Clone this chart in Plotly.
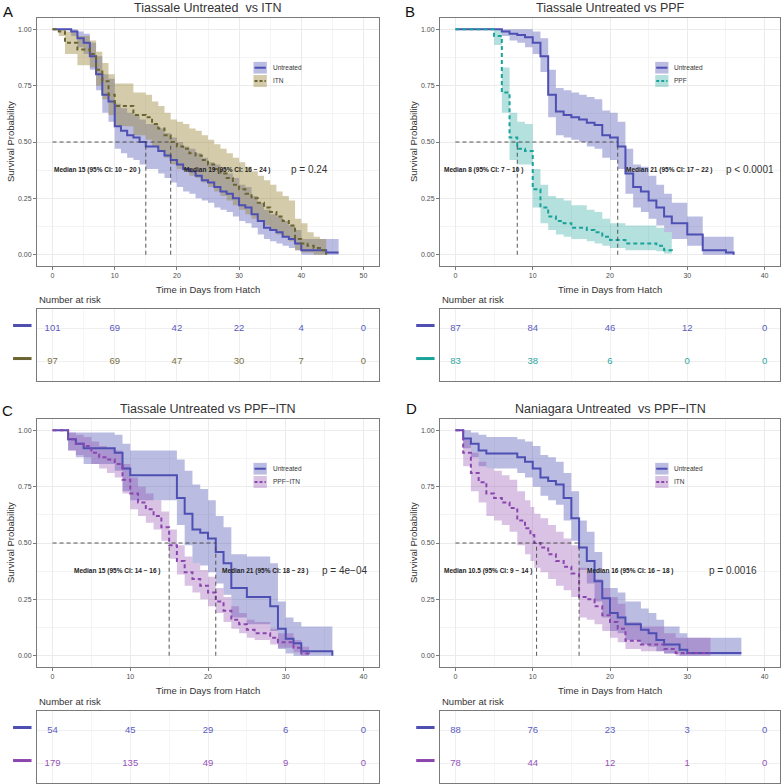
import plotly.graph_objects as go

# ---------------- data ----------------
# Panel A: Tiassale Untreated vs ITN
A_UNT_T = [0, 3, 4, 5, 6, 7, 8, 9, 10, 11, 12, 13, 14, 15, 17, 18, 19, 20, 21, 22, 23, 24, 25, 26, 27, 28, 29, 30,
           31, 32, 33, 34, 35, 36, 37, 38, 39, 40, 44, 46]
A_UNT_S = [1.00, 0.99, 0.96, 0.94, 0.88, 0.80, 0.71, 0.68, 0.57, 0.55, 0.53, 0.52, 0.50, 0.48, 0.46, 0.44, 0.42, 0.40,
           0.38, 0.37, 0.35, 0.33, 0.32, 0.30, 0.28, 0.27, 0.25, 0.22, 0.21, 0.18, 0.15, 0.12, 0.11, 0.10, 0.08, 0.07,
           0.05, 0.02, 0.01, 0.01]
A_UNT_LO = [1.00, 0.97, 0.92, 0.89, 0.82, 0.73, 0.63, 0.59, 0.47, 0.45, 0.43, 0.42, 0.40, 0.38, 0.36, 0.34, 0.32, 0.30,
            0.28, 0.27, 0.25, 0.24, 0.23, 0.21, 0.20, 0.19, 0.17, 0.15, 0.14, 0.12, 0.09, 0.07, 0.06, 0.05, 0.04, 0.03,
            0.02, 0.00, 0.00, 0.00]
A_UNT_HI = [1.00, 1.00, 0.99, 0.98, 0.94, 0.88, 0.80, 0.78, 0.67, 0.65, 0.63, 0.62, 0.60, 0.58, 0.56, 0.54, 0.52, 0.50,
            0.48, 0.47, 0.45, 0.43, 0.41, 0.40, 0.38, 0.36, 0.34, 0.31, 0.30, 0.26, 0.23, 0.20, 0.18, 0.17, 0.15, 0.13,
            0.11, 0.07, 0.07, 0.07]

A_ITN_T = [0, 1, 2, 4, 6, 7, 8, 9, 10, 13, 15, 16, 17, 18, 19, 20, 21, 22, 23, 24, 25, 26, 27, 28, 29, 30, 31, 32,
           33, 34, 35, 36, 37, 38, 39, 40, 41, 42, 43, 44]
A_ITN_S = [1.00, 0.99, 0.94, 0.91, 0.89, 0.82, 0.77, 0.71, 0.66, 0.62, 0.61, 0.58, 0.56, 0.53, 0.50, 0.48, 0.47, 0.45,
           0.44, 0.42, 0.40, 0.38, 0.36, 0.34, 0.31, 0.29, 0.27, 0.25, 0.23, 0.21, 0.19, 0.17, 0.15, 0.13, 0.07, 0.05,
           0.04, 0.03, 0.02, 0.00]
A_ITN_LO = [1.00, 0.97, 0.89, 0.84, 0.83, 0.75, 0.69, 0.62, 0.57, 0.53, 0.51, 0.48, 0.46, 0.43, 0.40, 0.38, 0.37, 0.35,
            0.34, 0.32, 0.30, 0.28, 0.26, 0.24, 0.22, 0.20, 0.18, 0.16, 0.15, 0.13, 0.11, 0.09, 0.08, 0.06, 0.02, 0.01,
            0.01, 0.00, 0.00, 0.00]
A_ITN_HI = [1.00, 1.00, 0.99, 0.97, 0.95, 0.90, 0.85, 0.80, 0.76, 0.72, 0.71, 0.68, 0.66, 0.63, 0.60, 0.59, 0.58, 0.56,
            0.55, 0.53, 0.51, 0.49, 0.47, 0.45, 0.43, 0.41, 0.39, 0.37, 0.35, 0.33, 0.31, 0.28, 0.26, 0.24, 0.16, 0.14,
            0.10, 0.08, 0.07, 0.07]

# Panel B: Tiassale Untreated vs PPF
B_UNT_T = [0, 6, 7, 8, 9, 10, 11, 12, 13, 14, 15, 16, 17, 18, 19, 20, 21, 22, 23, 24, 25, 26, 27, 28, 30, 32, 35, 36]
B_UNT_S = [1.00, 0.99, 0.98, 0.975, 0.965, 0.94, 0.88, 0.71, 0.635, 0.62, 0.61, 0.60, 0.585, 0.575, 0.53, 0.52, 0.48,
           0.36, 0.30, 0.28, 0.24, 0.21, 0.17, 0.14, 0.09, 0.02, 0.01, 0.00]
B_UNT_LO = [1.00, 0.97, 0.95, 0.94, 0.92, 0.89, 0.81, 0.61, 0.53, 0.52, 0.51, 0.50, 0.48, 0.47, 0.43, 0.42, 0.38,
            0.27, 0.21, 0.19, 0.16, 0.13, 0.10, 0.07, 0.04, 0.00, 0.00, 0.00]
B_UNT_HI = [1.00, 1.00, 1.00, 1.00, 1.00, 0.99, 0.96, 0.82, 0.74, 0.73, 0.72, 0.71, 0.70, 0.69, 0.64, 0.63, 0.59,
            0.47, 0.40, 0.39, 0.35, 0.31, 0.27, 0.23, 0.17, 0.08, 0.08, 0.08]

B_PPF_T = [0, 5, 6, 7, 8, 9, 10, 11, 12, 13, 14, 15, 17, 18, 19, 20, 22, 26, 27, 28]
B_PPF_S = [1.00, 0.97, 0.72, 0.52, 0.47, 0.46, 0.29, 0.21, 0.17, 0.15, 0.14, 0.12, 0.11, 0.10, 0.08, 0.065, 0.05,
           0.04, 0.02, 0.01]
B_PPF_LO = [1.00, 0.93, 0.63, 0.42, 0.40, 0.40, 0.21, 0.14, 0.11, 0.09, 0.08, 0.07, 0.06, 0.05, 0.04, 0.03, 0.02,
            0.015, 0.005, 0.00]
B_PPF_HI = [1.00, 1.00, 0.83, 0.63, 0.59, 0.58, 0.38, 0.31, 0.26, 0.25, 0.24, 0.22, 0.20, 0.19, 0.16, 0.14, 0.13,
            0.12, 0.10, 0.09]

# Panel C: Tiassale Untreated vs PPF-ITN
C_UNT_T = [0, 2, 3, 4, 8, 9, 10, 16, 17, 18, 19, 20, 21, 22, 23, 25, 28, 29, 30, 31, 32, 36]
C_UNT_S = [1.00, 0.96, 0.94, 0.92, 0.90, 0.83, 0.80, 0.70, 0.63, 0.56, 0.545, 0.52, 0.46, 0.41, 0.30, 0.26, 0.22,
           0.12, 0.075, 0.055, 0.02, 0.00]
C_UNT_LO = [1.00, 0.91, 0.88, 0.85, 0.82, 0.73, 0.69, 0.58, 0.49, 0.41, 0.40, 0.37, 0.32, 0.27, 0.17, 0.14, 0.11,
            0.03, 0.01, 0.00, 0.00, 0.00]
C_UNT_HI = [1.00, 0.99, 0.99, 0.99, 0.98, 0.94, 0.91, 0.87, 0.82, 0.76, 0.74, 0.69, 0.62, 0.57, 0.45, 0.44, 0.41,
            0.24, 0.17, 0.15, 0.13, 0.13]

C_PI_T = [0, 2, 3, 4, 5, 6, 7, 8, 9, 10, 11, 12, 13, 14, 15, 16, 17, 18, 19, 20, 21, 22, 23, 24, 25, 26, 28, 29,
          31, 32, 33]
C_PI_S = [1.00, 0.96, 0.94, 0.93, 0.90, 0.88, 0.87, 0.85, 0.78, 0.72, 0.68, 0.65, 0.62, 0.57, 0.49, 0.42, 0.37, 0.34,
          0.31, 0.28, 0.24, 0.20, 0.16, 0.14, 0.115, 0.10, 0.08, 0.06, 0.035, 0.01, 0.00]
C_PI_LO = [1.00, 0.91, 0.89, 0.88, 0.85, 0.83, 0.81, 0.79, 0.72, 0.65, 0.62, 0.59, 0.56, 0.51, 0.43, 0.36, 0.31, 0.28,
           0.25, 0.22, 0.19, 0.15, 0.12, 0.10, 0.08, 0.07, 0.05, 0.035, 0.015, 0.00, 0.00]
C_PI_HI = [1.00, 0.99, 0.98, 0.97, 0.95, 0.93, 0.92, 0.91, 0.85, 0.79, 0.75, 0.72, 0.69, 0.64, 0.56, 0.49, 0.44, 0.41,
           0.38, 0.35, 0.30, 0.26, 0.22, 0.19, 0.16, 0.15, 0.12, 0.10, 0.07, 0.04, 0.04]

# Panel D: Naniagara Untreated vs PPF-ITN
D_UNT_T = [0, 1, 2, 3, 4, 8, 9, 10, 11, 12, 13, 14, 15, 16, 17, 18, 19, 20, 21, 22, 24, 25, 26, 27, 29, 30, 37]
D_UNT_S = [1.00, 0.963, 0.94, 0.91, 0.897, 0.88, 0.86, 0.83, 0.79, 0.775, 0.76, 0.70, 0.61, 0.48, 0.42, 0.33, 0.255,
           0.19, 0.17, 0.14, 0.115, 0.10, 0.07, 0.05, 0.027, 0.012, 0.012]
D_UNT_LO = [1.00, 0.92, 0.88, 0.84, 0.83, 0.81, 0.79, 0.75, 0.71, 0.69, 0.67, 0.60, 0.51, 0.38, 0.32, 0.24, 0.17,
            0.11, 0.10, 0.07, 0.05, 0.04, 0.02, 0.01, 0.00, 0.00, 0.00]
D_UNT_HI = [1.00, 1.00, 0.99, 0.98, 0.97, 0.96, 0.95, 0.93, 0.89, 0.88, 0.86, 0.81, 0.73, 0.60, 0.55, 0.46, 0.37,
            0.30, 0.28, 0.24, 0.21, 0.19, 0.16, 0.13, 0.10, 0.08, 0.08]

D_ITN_T = [0, 1, 2, 3, 4, 5, 6, 7, 8, 9, 9.7, 10.2, 11, 12, 13, 14, 15, 16, 17, 18, 19, 20, 21, 22, 24, 27, 28.5, 33]
D_ITN_S = [1.00, 0.90, 0.81, 0.77, 0.72, 0.70, 0.68, 0.655, 0.60, 0.565, 0.535, 0.50, 0.48, 0.45, 0.42, 0.395, 0.365,
           0.26, 0.25, 0.22, 0.18, 0.15, 0.12, 0.066, 0.05, 0.03, 0.012, 0.012]
D_ITN_LO = [1.00, 0.84, 0.73, 0.68, 0.62, 0.60, 0.58, 0.55, 0.49, 0.45, 0.42, 0.39, 0.37, 0.34, 0.31, 0.29, 0.26,
            0.17, 0.16, 0.14, 0.11, 0.08, 0.06, 0.03, 0.02, 0.01, 0.00, 0.00]
D_ITN_HI = [1.00, 0.96, 0.90, 0.86, 0.83, 0.82, 0.80, 0.78, 0.73, 0.69, 0.66, 0.63, 0.61, 0.58, 0.55, 0.52, 0.49,
            0.39, 0.37, 0.34, 0.30, 0.26, 0.23, 0.15, 0.13, 0.10, 0.08, 0.08]

# number at risk tables
RISK_TIMES_A = [0, 10, 20, 30, 40, 50]
RISK_A_UNT = [101, 69, 42, 22, 4, 0]
RISK_A_ITN = [97, 69, 47, 30, 7, 0]
RISK_TIMES_BCD = [0, 10, 20, 30, 40]
RISK_B_UNT = [87, 84, 46, 12, 0]
RISK_B_PPF = [83, 38, 6, 0, 0]
RISK_C_UNT = [54, 45, 29, 6, 0]
RISK_C_PI = [179, 135, 49, 9, 0]
RISK_D_UNT = [88, 76, 23, 3, 0]
RISK_D_ITN = [78, 44, 12, 1, 0]

# medians and their labels
MEDIANS_A = [15, 19]
MEDIANS_B = [8, 21]
MEDIANS_C = [15, 21]
MEDIANS_D = [10.5, 16]
MEDIAN_LABELS_A = ["Median 15 (95% CI: 10 − 20 )", "Median 19 (95% CI: 16 − 24 )"]
MEDIAN_LABELS_B = ["Median 8 (95% CI: 7 − 10 )", "Median 21 (95% CI: 17 − 22 )"]
MEDIAN_LABELS_C = ["Median 15 (95% CI: 14 − 16 )", "Median 21 (95% CI: 18 − 23 )"]
MEDIAN_LABELS_D = ["Median 10.5 (95% CI: 9 − 14 )", "Median 16 (95% CI: 16 − 18 )"]

# ---------------- styling ----------------
W = H = 784
FONT = "Liberation Sans, Arial, sans-serif"
UNT = dict(line="#4D4FB3", band="rgba(77,79,179,0.38)", text="#5A5BC0")
ITN_OL = dict(line="#6B6430", band="rgba(150,130,50,0.42)", text="#7B7242")
PPF = dict(line="#1AA39B", band="rgba(26,163,155,0.33)", text="#2BA8A1")
PPFITN = dict(line="#8B46AE", band="rgba(139,70,174,0.33)", text="#9453B8")

PANELS = [
    dict(letter="A", letter_xy=(8, 12), title="Tiassale Untreated  vs ITN", xpx=(37, 379), ypx=(18, 266),
         tpx=(309, 381), xrange=[-2.5, 52.5], ticks=[0, 10, 20, 30, 40, 50], risk_times=RISK_TIMES_A,
         curves=[dict(name="Untreated", t=A_UNT_T, s=A_UNT_S, lo=A_UNT_LO, hi=A_UNT_HI, c=UNT, dash="solid",
                      risk=RISK_A_UNT),
                 dict(name="ITN", t=A_ITN_T, s=A_ITN_S, lo=A_ITN_LO, hi=A_ITN_HI, c=ITN_OL, dash="4px,3px",
                      risk=RISK_A_ITN)],
         medians=MEDIANS_A, mlabels=MEDIAN_LABELS_A, mlabel_x=[7.2, 28.2], pval="p = 0.24", p_x=41.3),
    dict(letter="B", letter_xy=(410, 11), title="Tiassale Untreated vs PPF", xpx=(440, 780), ypx=(18, 266),
         tpx=(309, 381), xrange=[-2, 42], ticks=[0, 10, 20, 30, 40], risk_times=RISK_TIMES_BCD,
         curves=[dict(name="Untreated", t=B_UNT_T, s=B_UNT_S, lo=B_UNT_LO, hi=B_UNT_HI, c=UNT, dash="solid",
                      risk=RISK_B_UNT),
                 dict(name="PPF", t=B_PPF_T, s=B_PPF_S, lo=B_PPF_LO, hi=B_PPF_HI, c=PPF, dash="4px,3px",
                      risk=RISK_B_PPF)],
         medians=MEDIANS_B, mlabels=MEDIAN_LABELS_B, mlabel_x=[3.6, 27.7], pval="p < 0.0001", p_x=38.1),
    dict(letter="C", letter_xy=(8, 410), title="Tiassale Untreated vs PPF−ITN", xpx=(37, 379), ypx=(419, 667),
         tpx=(711, 783), xrange=[-2, 42], ticks=[0, 10, 20, 30, 40], risk_times=RISK_TIMES_BCD,
         curves=[dict(name="Untreated", t=C_UNT_T, s=C_UNT_S, lo=C_UNT_LO, hi=C_UNT_HI, c=UNT, dash="solid",
                      risk=RISK_C_UNT),
                 dict(name="PPF−ITN", t=C_PI_T, s=C_PI_S, lo=C_PI_LO, hi=C_PI_HI, c=PPFITN, dash="4px,3px",
                      risk=RISK_C_PI)],
         medians=MEDIANS_C, mlabels=MEDIAN_LABELS_C, mlabel_x=[8.4, 27.4], pval="p = 4e−04", p_x=37.5),
    dict(letter="D", letter_xy=(411, 409), title="Naniagara Untreated  vs PPF−ITN", xpx=(440, 780),
         ypx=(419, 667), tpx=(711, 783), xrange=[-2, 42], ticks=[0, 10, 20, 30, 40], risk_times=RISK_TIMES_BCD,
         curves=[dict(name="Untreated", t=D_UNT_T, s=D_UNT_S, lo=D_UNT_LO, hi=D_UNT_HI, c=UNT, dash="solid",
                      risk=RISK_D_UNT),
                 dict(name="ITN", t=D_ITN_T, s=D_ITN_S, lo=D_ITN_LO, hi=D_ITN_HI, c=PPFITN, dash="4px,3px",
                      risk=RISK_D_ITN)],
         medians=MEDIANS_D, mlabels=MEDIAN_LABELS_D, mlabel_x=[4.2, 22.6], pval="p = 0.0016", p_x=35.9),
]


def dom_x(a, b):
    return [a / W, b / W]


def dom_y(top, bottom):
    return [1 - bottom / H, 1 - top / H]


def ax_key(a, n):
    return a if n == 1 else f"{a}{n}"


def note(x, y, text, size, color="#333333", xanchor="center", yanchor="middle", **kw):
    # paper-referenced text with explicit anchors
    return dict(xref="paper", yref="paper", x=x, y=y, text=text, showarrow=False,
                xanchor=xanchor, yanchor=yanchor, font=dict(size=size, color=color), **kw)


fig = go.Figure()
layout = dict(width=W, height=H, autosize=False, margin=dict(l=0, r=0, t=0, b=0, pad=0),
              paper_bgcolor="white", plot_bgcolor="white", showlegend=False,
              font=dict(family=FONT, color="#333333"))
shapes, annotations = [], []

for i, p in enumerate(PANELS):
    n_plot, n_tab = 2 * i + 1, 2 * i + 2
    xp = "x" if n_plot == 1 else f"x{n_plot}"
    yp = "y" if n_plot == 1 else f"y{n_plot}"
    xt, yt = f"x{n_tab}", f"y{n_tab}"

    # ---- survival plot axes ----
    layout[ax_key("xaxis", n_plot)] = dict(
        domain=dom_x(*p["xpx"]), anchor=yp, range=p["xrange"], tickvals=p["ticks"],
        showline=True, mirror=True, linecolor="#7a7a7a", linewidth=1,
        ticks="outside", ticklen=3, tickcolor="#7a7a7a", tickfont=dict(size=7, color="#4d4d4d"),
        gridcolor="#ebebeb", gridwidth=0.8, zeroline=False,
        minor=dict(dtick=5, tick0=5, showgrid=True, gridcolor="#f4f4f4", gridwidth=0.5))
    layout[ax_key("yaxis", n_plot)] = dict(
        domain=dom_y(*p["ypx"]), anchor=xp, range=[-0.05, 1.05], tickvals=[0, 0.25, 0.5, 0.75, 1.0],
        tickformat=".2f", showline=True, mirror=True, linecolor="#7a7a7a", linewidth=1,
        ticks="outside", ticklen=3, tickcolor="#7a7a7a", tickfont=dict(size=7, color="#4d4d4d"),
        gridcolor="#ebebeb", gridwidth=0.8, zeroline=False,
        minor=dict(dtick=0.125, tick0=0.125, showgrid=True, gridcolor="#f4f4f4", gridwidth=0.5))

    # ---- risk table axes ----
    layout[ax_key("xaxis", n_tab)] = dict(
        domain=dom_x(*p["xpx"]), anchor=yt, range=p["xrange"], tickvals=p["ticks"], showticklabels=False,
        showline=True, mirror=True, linecolor="#7a7a7a", linewidth=1, ticks="",
        gridcolor="#efefef", gridwidth=0.8, zeroline=False,
        minor=dict(dtick=5, tick0=5, showgrid=True, gridcolor="#f6f6f6", gridwidth=0.5))
    layout[ax_key("yaxis", n_tab)] = dict(
        domain=dom_y(*p["tpx"]), anchor=xt, range=[-0.58, 1.6], tickvals=[0, 1], showticklabels=False,
        showline=True, mirror=True, linecolor="#7a7a7a", linewidth=1, ticks="",
        gridcolor="#efefef", gridwidth=0.8, zeroline=False)

    # ---- confidence bands ----
    for c in p["curves"]:
        fig.add_trace(go.Scatter(x=c["t"], y=c["lo"], mode="lines", line=dict(width=0, shape="hv"),
                                 hoverinfo="skip", xaxis=xp, yaxis=yp))
        fig.add_trace(go.Scatter(x=c["t"], y=c["hi"], mode="lines", line=dict(width=0, shape="hv"),
                                 fill="tonexty", fillcolor=c["c"]["band"], hoverinfo="skip",
                                 xaxis=xp, yaxis=yp))

    # ---- median guide lines ----
    mmax = max(p["medians"])
    shapes.append(dict(type="line", xref=xp, yref=yp, x0=0, x1=mmax, y0=0.5, y1=0.5,
                       line=dict(color="#444444", width=0.9, dash="4px,3px")))
    for m in p["medians"]:
        shapes.append(dict(type="line", xref=xp, yref=yp, x0=m, x1=m, y0=0, y1=0.5,
                           line=dict(color="#444444", width=0.9, dash="4px,3px")))

    # ---- survival step lines ----
    for c in p["curves"]:
        fig.add_trace(go.Scatter(x=c["t"], y=c["s"], mode="lines", name=c["name"],
                                 line=dict(color=c["c"]["line"], width=2, shape="hv", dash=c["dash"]),
                                 xaxis=xp, yaxis=yp))

    # ---- median labels and p-value ----
    for lbl, lx in zip(p["mlabels"], p["mlabel_x"]):
        annotations.append(dict(xref=xp, yref=yp, x=lx, y=0.376, text=f"<b>{lbl}</b>", showarrow=False,
                                xanchor="center", yanchor="middle",
                                font=dict(size=6.5, color="#222222")))
    annotations.append(dict(xref=xp, yref=yp, x=p["p_x"], y=0.38, text=p["pval"], showarrow=False,
                            xanchor="center", yanchor="middle", font=dict(size=10, color="#333333")))

    # ---- in-plot legend ----
    xd, yd = f"{xp} domain", f"{yp} domain"
    leg_rows = [(0.823, 0.776), (0.770, 0.722)]
    for c, (y1, y0) in zip(p["curves"], leg_rows):
        shapes.append(dict(type="rect", xref=xd, yref=yd, x0=0.633, x1=0.672, y0=y0, y1=y1,
                           fillcolor=c["c"]["band"], line=dict(width=0)))
        shapes.append(dict(type="line", xref=xd, yref=yd, x0=0.636, x1=0.669, y0=(y0 + y1) / 2,
                           y1=(y0 + y1) / 2,
                           line=dict(color=c["c"]["line"], width=2,
                                     dash="solid" if c["dash"] == "solid" else "3px,2px")))
        annotations.append(dict(xref=xd, yref=yd, x=0.683, y=(y0 + y1) / 2, text=c["name"], showarrow=False,
                                xanchor="left", yanchor="middle", font=dict(size=6.5, color="#333333")))

    # ---- risk table ----
    for row, c in zip([1, 0], p["curves"]):
        fig.add_trace(go.Scatter(x=p["risk_times"], y=[row] * len(p["risk_times"]), mode="text",
                                 text=[str(v) for v in c["risk"]],
                                 textfont=dict(size=9.5, color=c["c"]["text"], family=FONT),
                                 hoverinfo="skip", xaxis=xt, yaxis=yt))
        shapes.append(dict(type="line", xref=f"{xt} domain", yref=yt, x0=-0.07, x1=-0.016, y0=row + 0.1,
                           y1=row + 0.1, line=dict(color=c["c"]["line"], width=3)))

    # ---- text around panel ----
    x0, x1 = p["xpx"]
    cx = (x0 + x1) / 2 / W
    top, bot = p["ypx"]
    annotations.append(note(cx, 1 - (top - 10) / H, p["title"], 12.5))
    lx, ly = p["letter_xy"]
    annotations.append(note(lx / W, 1 - ly / H, p["letter"], 15, color="#111111"))
    annotations.append(note((x0 - 27) / W, 1 - (top + bot) / 2 / H, "Survival Probability", 9.5,
                            textangle=-90))
    annotations.append(note(cx, 1 - (bot + 23) / H, "Time in Days from Hatch", 9.5))
    annotations.append(note(x0 / W, 1 - (p["tpx"][0] - 10) / H, "Number at risk", 9.5, xanchor="left"))

layout["shapes"] = shapes
layout["annotations"] = annotations
fig.update_layout(**layout)

# page body margin would shift the fixed-size figure off the 784px window
fig.write_html("out.html", config={"displayModeBar": False},
               post_script="document.body.style.margin='0px';")
